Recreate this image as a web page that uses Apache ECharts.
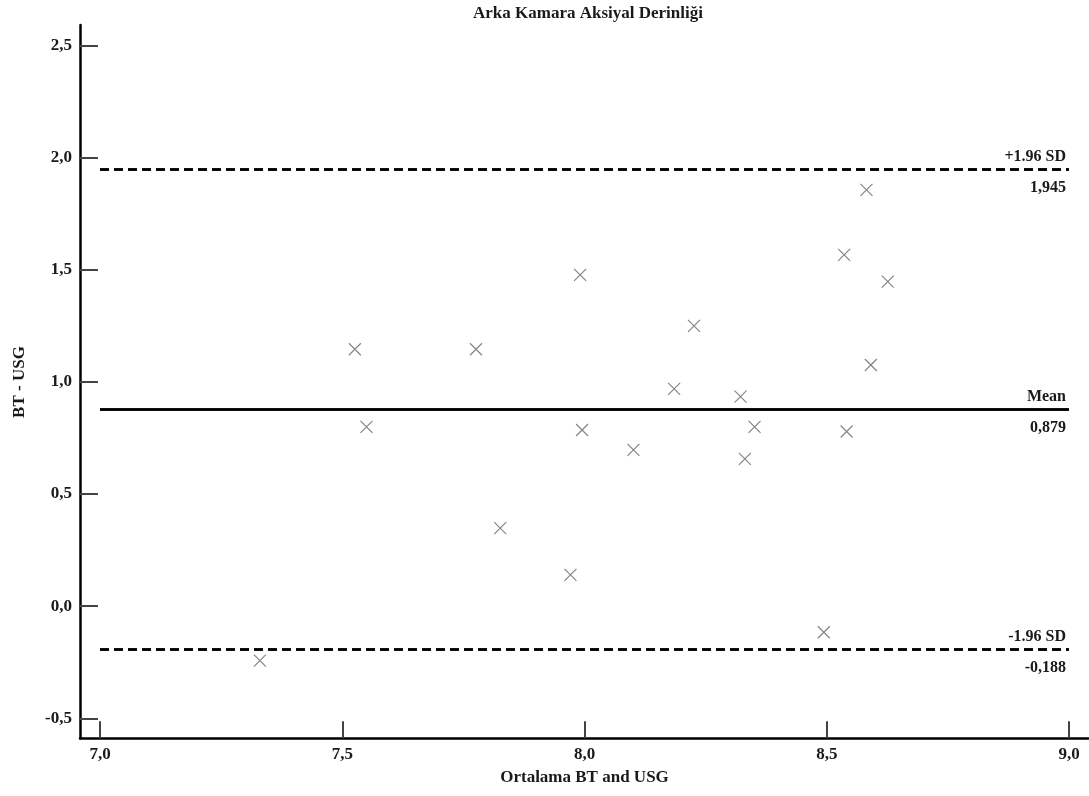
<!DOCTYPE html>
<html>
<head>
<meta charset="utf-8">
<script src="https://cdn.jsdelivr.net/npm/echarts@6/dist/echarts.min.js"></script>
<style>
html,body{margin:0;padding:0;background:#fff;}
#chart{width:1089px;height:796px;}
</style>
</head>
<body>
<div id="chart"></div>
<script>
// Data
const titleText = 'Arka Kamara Aksiyal Derinliği';
const xAxisName = 'Ortalama BT and USG';
const yAxisName = 'BT - USG';
const meanX = [7.330, 7.526, 7.550, 7.776, 7.826, 7.971, 7.991, 7.995, 8.101, 8.185,
               8.226, 8.322, 8.331, 8.351, 8.494, 8.536, 8.541, 8.582, 8.591, 8.626];
const diffY = [-0.243, 1.146, 0.800, 1.146, 0.348, 0.140, 1.478, 0.786, 0.697, 0.969,
               1.250, 0.935, 0.657, 0.800, -0.116, 1.567, 0.779, 1.857, 1.076, 1.448];
const meanDiff = 0.879;
const upperLoA = 1.945;
const lowerLoA = -0.188;
const lineLabels = ['+1.96 SD', 'Mean', '-1.96 SD'];
const lineValueLabels = ['1,945', '0,879', '-0,188'];

const FONT = 'Liberation Serif';
const TXT = '#1a1a1a';
const fmt = v => v.toFixed(1).replace('.', ',');

const points = meanX.map((x, i) => [x, diffY[i]]);

function lineItems(value, topLabel, bottomLabel, dashed) {
  const ls = { color: '#000', width: 2.5, type: dashed ? [9, 5] : 'solid' };
  const base = { fontFamily: FONT, fontWeight: 'bold', fontSize: 16, color: TXT };
  return [
    { yAxis: value, lineStyle: ls,
      label: Object.assign({ show: true, position: 'insideEndTop', distance: [3, 4], formatter: topLabel }, base) },
    { yAxis: value, lineStyle: ls,
      label: Object.assign({ show: true, position: 'insideEndBottom', distance: [3, 11], formatter: bottomLabel }, base) }
  ];
}

const chart = echarts.init(document.getElementById('chart'), null, { renderer: 'canvas' });
chart.setOption({
  animation: false,
  backgroundColor: '#fff',
  title: {
    text: titleText,
    left: 468, top: 0,
    textStyle: { fontFamily: FONT, fontWeight: 'bold', fontSize: 17, color: TXT }
  },
  grid: [
    { left: 100, right: 20, top: 45.7, bottom: 77.7 },
    { left: 80, right: 0, top: 25, bottom: 58 }
  ],
  xAxis: [
    {
      gridIndex: 0, type: 'value', min: 7, max: 9, interval: 0.5, offset: 20,
      name: xAxisName, nameLocation: 'middle', nameGap: 31,
      nameTextStyle: { fontFamily: FONT, fontWeight: 'bold', fontSize: 17, color: TXT },
      axisLine: { show: false, onZero: false },
      axisTick: { show: true, inside: true, length: 17, lineStyle: { color: '#444', width: 2 } },
      axisLabel: { formatter: fmt, margin: 8, fontFamily: FONT, fontWeight: 'bold', fontSize: 17, color: TXT },
      splitLine: { show: false }
    },
    {
      gridIndex: 1, type: 'value', min: 0, max: 1,
      axisLine: { show: true, onZero: false, lineStyle: { color: '#000', width: 2.5 } },
      axisTick: { show: false }, axisLabel: { show: false }, splitLine: { show: false }
    }
  ],
  yAxis: [
    {
      gridIndex: 0, type: 'value', min: -0.5, max: 2.5, interval: 0.5, offset: 20,
      name: yAxisName, nameLocation: 'middle', nameGap: 52,
      nameTextStyle: { fontFamily: FONT, fontWeight: 'bold', fontSize: 17, color: TXT },
      axisLine: { show: false, onZero: false },
      axisTick: { show: true, inside: true, length: 18, lineStyle: { color: '#444', width: 2 } },
      axisLabel: { formatter: fmt, margin: 8, fontFamily: FONT, fontWeight: 'bold', fontSize: 17, color: TXT },
      splitLine: { show: false }
    },
    {
      gridIndex: 1, type: 'value', min: 0, max: 1,
      axisLine: { show: true, onZero: false, lineStyle: { color: '#000', width: 2.5 } },
      axisTick: { show: false }, axisLabel: { show: false }, splitLine: { show: false }
    }
  ],
  series: [
    {
      type: 'scatter',
      xAxisIndex: 0, yAxisIndex: 0,
      data: points,
      symbol: 'path://M0,0L10,10M10,0L0,10',
      symbolSize: 12,
      itemStyle: { color: 'transparent', borderColor: '#666', borderWidth: 1.2 },
      markLine: {
        silent: true,
        symbol: ['none', 'none'],
        data: [].concat(
          lineItems(upperLoA, lineLabels[0], lineValueLabels[0], true),
          lineItems(meanDiff, lineLabels[1], lineValueLabels[1], false),
          lineItems(lowerLoA, lineLabels[2], lineValueLabels[2], true)
        )
      }
    }
  ]
});
</script>
</body>
</html>
